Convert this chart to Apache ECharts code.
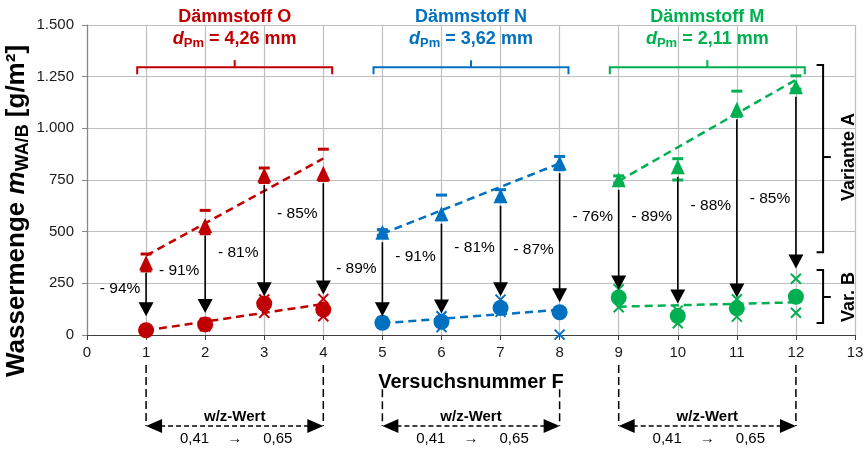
<!DOCTYPE html>
<html><head><meta charset="utf-8">
<script src="https://cdn.jsdelivr.net/npm/echarts@6/dist/echarts.min.js"></script>
<style>html,body{margin:0;padding:0;background:#fff}#c{width:865px;height:449px}</style>
</head><body><div id="c"></div>
<script>
// ---------- data ----------
const groupNames = ['Dämmstoff O', 'Dämmstoff N', 'Dämmstoff M'];
const groupDpm = ['4,26', '3,62', '2,11'];
const groupSpan = [[1, 4], [5, 8], [9, 12]];
const trialNumbers = [1, 2, 3, 4, 5, 6, 7, 8, 9, 10, 11, 12];
const groupOfTrial = [0, 0, 0, 0, 1, 1, 1, 1, 2, 2, 2, 2];
const variantA = [349, 530, 774, 783, 497, 587, 674, 832, 751, 814, 1092, 1201];
const variantALow = [310, 490, 738, 748, 482, 558, 650, 800, 735, 750, 1058, 1190];
const variantAHigh = [392, 603, 808, 899, 510, 677, 703, 864, 770, 853, 1180, 1254];
const variantB = [23, 51, 152, 123, 59, 64, 131, 110, 182, 92, 129, 185];
const singleB = [[2, 42], [2, 60], [3, 107], [3, 172], [4, 175], [4, 91], [5, 66],
  [6, 91], [6, 38], [7, 171], [7, 112], [8, 2], [9, 221], [9, 134], [10, 57], [10, 118],
  [11, 173], [11, 89], [12, 272], [12, 108]];
const trendA = [[[1, 384], [4, 854]], [[5, 490], [8, 830]], [[9, 745], [12, 1235]]];
const trendB = [[[1, 22], [4, 150]], [[5, 57], [8, 122]], [[9, 137], [12, 158]]];
const arrowTip = [91, 107, 187, 196, 91, 104, 187, 158, 220, 152, 182, 322];
const reductions = ['- 94%', '- 91%', '- 81%', '- 85%', '- 89%', '- 91%', '- 81%', '- 87%', '- 76%', '- 89%', '- 88%', '- 85%'];
const yTicks = [0, 250, 500, 750, 1000, 1250, 1500];
const wzFrom = '0,41', wzTo = '0,65';

// ---------- layout (not data) ----------
const labelLevel = [222, 309, 398, 585, 322, 379, 422, 414, 572, 572, 624, 661];
const groupColors = ['#C00000', '#0070C0', '#00B050'];
const FONT = '"Liberation Sans", Arial, sans-serif';

const chart = echarts.init(document.getElementById('c'), null, {renderer: 'canvas'});

function fmtY(v) {
  if (v >= 1000) return Math.floor(v / 1000) + '.' + String(v % 1000).padStart(3, '0');
  return String(v);
}

const series = [];
for (let g = 0; g < 3; g++) {
  [trendA[g], trendB[g]].forEach(tr => series.push({
    type: 'line', data: tr, symbol: 'none', silent: true, z: 3,
    lineStyle: {color: groupColors[g], width: 2.5, type: [8, 5]}
  }));
}
// error bar caps of variant A
series.push({
  type: 'custom', z: 4, silent: true,
  data: trialNumbers.map((x, i) => [x, variantALow[i], variantAHigh[i]]),
  renderItem(params, api) {
    const i = params.dataIndex, x = api.value(0);
    const lo = api.coord([x, api.value(1)]), hi = api.coord([x, api.value(2)]);
    const c = groupColors[groupOfTrial[i]];
    return {type: 'group', children: [
      {type: 'rect', shape: {x: lo[0] - 5.5, y: lo[1] - 1.5, width: 11, height: 3}, style: {fill: c}},
      {type: 'rect', shape: {x: hi[0] - 5.5, y: hi[1] - 1.5, width: 11, height: 3}, style: {fill: c}}
    ]};
  }
});
// single values (crosses)
series.push({
  type: 'custom', z: 4, silent: true, data: singleB,
  renderItem(params, api) {
    const x = api.value(0);
    const p = api.coord([x, api.value(1)]);
    const c = groupColors[groupOfTrial[x - 1]];
    const r = 5;
    return {type: 'group', children: [
      {type: 'line', shape: {x1: p[0] - r, y1: p[1] - r, x2: p[0] + r, y2: p[1] + r}, style: {stroke: c, lineWidth: 2}},
      {type: 'line', shape: {x1: p[0] - r, y1: p[1] + r, x2: p[0] + r, y2: p[1] - r}, style: {stroke: c, lineWidth: 2}}
    ]};
  }
});
for (let g = 0; g < 3; g++) {
  const idx = trialNumbers.map((x, i) => i).filter(i => groupOfTrial[i] === g);
  series.push({type: 'scatter', symbol: 'triangle', symbolSize: [14, 15], z: 5, silent: true,
    itemStyle: {color: groupColors[g], opacity: 1}, data: idx.map(i => [trialNumbers[i], variantA[i]])});
  series.push({type: 'scatter', symbol: 'circle', symbolSize: 16, z: 5, silent: true,
    itemStyle: {color: groupColors[g], opacity: 1}, data: idx.map(i => [trialNumbers[i], variantB[i]])});
}
// arrows
series.push({
  type: 'custom', z: 6, silent: true,
  data: trialNumbers.map((x, i) => [x, variantA[i], arrowTip[i]]),
  renderItem(params, api) {
    const x = api.value(0);
    const s = api.coord([x, api.value(1)]), t = api.coord([x, api.value(2)]);
    const hh = 14, hw = 15;
    return {type: 'group', children: [
      {type: 'line', shape: {x1: s[0], y1: s[1] + 10, x2: s[0], y2: t[1] - hh + 1}, style: {stroke: '#000', lineWidth: 1.6}},
      {type: 'polygon', shape: {points: [[t[0] - hw / 2, t[1] - hh], [t[0] + hw / 2, t[1] - hh], [t[0], t[1]]]}, style: {fill: '#000'}}
    ]};
  }
});
// reduction labels
series.push({
  type: 'custom', z: 7, silent: true,
  data: trialNumbers.map((x, i) => [x, labelLevel[i]]),
  renderItem(params, api) {
    const p = api.coord([api.value(0) - 0.44, api.value(1)]);
    return {type: 'text', style: {x: p[0], y: p[1], text: reductions[params.dataIndex],
      font: '15.5px ' + FONT, fill: '#000', align: 'center', verticalAlign: 'middle'}};
  }
});
// annotations: group brackets, titles, w/z-Wert, variant brackets
series.push({
  type: 'custom', z: 7, silent: true, clip: false, data: [[0, 0]],
  renderItem(params, api) {
    const ch = [];
    const C = (x, y) => api.coord([x, y]);
    for (let g = 0; g < 3; g++) {
      const col = groupColors[g];
      const a = groupSpan[g][0], b = groupSpan[g][1], m = (a + b) / 2;
      const l = C(a - 0.15, 1262), lt = C(a - 0.15, 1296), rt = C(b + 0.15, 1296), r = C(b + 0.15, 1262);
      const mt = C(m, 1296), mu = C(m, 1330);
      ch.push({type: 'polyline', shape: {points: [l, lt, rt, r]}, style: {stroke: col, lineWidth: 2, fill: null}});
      ch.push({type: 'line', shape: {x1: mt[0], y1: mt[1], x2: mu[0], y2: mu[1]}, style: {stroke: col, lineWidth: 2}});
      const t1 = C(m, 1538), t2 = C(m, 1431);
      ch.push({type: 'text', style: {x: t1[0], y: t1[1], text: groupNames[g], font: 'bold 18px ' + FONT,
        fill: col, align: 'center', verticalAlign: 'middle'}});
      ch.push({type: 'text', style: {x: t2[0], y: t2[1], text: '{d|d}{s|Pm}{n| = ' + groupDpm[g] + ' mm}',
        align: 'center', verticalAlign: 'middle', fill: col,
        rich: {
          d: {fontFamily: FONT, fontSize: 18, fontWeight: 'bold', fontStyle: 'italic', fill: col, lineHeight: 22},
          s: {fontFamily: FONT, fontSize: 13, fontWeight: 'bold', fill: col, lineHeight: 12, verticalAlign: 'bottom'},
          n: {fontFamily: FONT, fontSize: 18, fontWeight: 'bold', fill: col, lineHeight: 22}
        }}});
      // w/z-Wert annotation under the axis
      const yStart = g === 1 ? -262 : -145;
      [a, b].forEach(xv => {
        const p0 = C(xv, yStart), p1 = C(xv, -440);
        ch.push({type: 'line', shape: {x1: p0[0], y1: p0[1], x2: p1[0], y2: p1[1]}, style: {stroke: '#000', lineWidth: 1.5, lineDash: [8, 4]}});
      });
      const pa = C(a, -440), pb = C(b, -440);
      ch.push({type: 'line', shape: {x1: pa[0] + 14, y1: pa[1], x2: pb[0] - 14, y2: pb[1]}, style: {stroke: '#000', lineWidth: 1.5, lineDash: [5, 3]}});
      ch.push({type: 'polygon', shape: {points: [[pa[0], pa[1]], [pa[0] + 16, pa[1] - 7], [pa[0] + 16, pa[1] + 7]]}, style: {fill: '#000'}});
      ch.push({type: 'polygon', shape: {points: [[pb[0], pb[1]], [pb[0] - 16, pb[1] - 7], [pb[0] - 16, pb[1] + 7]]}, style: {fill: '#000'}});
      const w = C(m, -395);
      ch.push({type: 'text', style: {x: w[0], y: w[1], text: 'w/z-Wert', font: 'bold 15px ' + FONT, fill: '#000', align: 'center', verticalAlign: 'middle'}});
      const v1 = C(m - 0.68, -503), v2 = C(m, -503), v3 = C(m + 0.73, -503);
      ch.push({type: 'text', style: {x: v1[0], y: v1[1], text: wzFrom, font: '15px ' + FONT, fill: '#000', align: 'center', verticalAlign: 'middle'}});
      ch.push({type: 'text', style: {x: v2[0], y: v2[1], text: '→', font: '15px ' + FONT, fill: '#000', align: 'center', verticalAlign: 'middle'}});
      ch.push({type: 'text', style: {x: v3[0], y: v3[1], text: wzTo, font: '15px ' + FONT, fill: '#000', align: 'center', verticalAlign: 'middle'}});
    }
    // variant brackets on the right
    const brace = (top, mid, bot, label) => {
      const t = C(12.46, top), b = C(12.46, bot), tl = C(12.35, top), bl = C(12.35, bot);
      const mm = C(12.46, mid), mr = C(12.59, mid);
      ch.push({type: 'polyline', shape: {points: [tl, t, b, bl]}, style: {stroke: '#000', lineWidth: 2, fill: null}});
      ch.push({type: 'line', shape: {x1: mm[0], y1: mm[1], x2: mr[0], y2: mr[1]}, style: {stroke: '#000', lineWidth: 2}});
      const tp = C(12.9, mid);
      ch.push({type: 'text', x: tp[0], y: tp[1], rotation: Math.PI / 2,
        style: {x: 0, y: 0, text: label, font: 'bold 18px ' + FONT, fill: '#000', align: 'center', verticalAlign: 'middle'}});
    };
    brace(1306, 861, 401, 'Variante A');
    brace(314, 184, 58, 'Var. B');
    return {type: 'group', children: ch};
  }
});

const option = {
  animation: false,
  backgroundColor: '#fff',
  grid: {left: 87, right: 10, top: 25, bottom: 114, containLabel: false, outerBoundsMode: 'none'},
  xAxis: {
    type: 'value', min: 0, max: 13, interval: 1,
    name: 'Versuchsnummer F', nameLocation: 'middle', nameGap: 37,
    nameTextStyle: {fontFamily: FONT, fontSize: 20, fontWeight: 'bold', color: '#000'},
    axisLine: {show: true, onZero: false, lineStyle: {color: '#404040', width: 1.2}},
    axisTick: {show: true, length: 5, lineStyle: {color: '#404040'}},
    axisLabel: {fontFamily: FONT, fontSize: 15, color: '#1a1a1a', margin: 10},
    splitLine: {show: true, lineStyle: {color: '#BFBFBF', width: 1.2}}
  },
  yAxis: {
    type: 'value', min: 0, max: 1500, interval: 250,
    axisLine: {show: true, lineStyle: {color: '#868686', width: 1.2}},
    axisTick: {show: true, length: 5, lineStyle: {color: '#868686'}},
    axisLabel: {fontFamily: FONT, fontSize: 15, color: '#1a1a1a', margin: 13,
      formatter: v => yTicks.includes(v) ? fmtY(v) : ''},
    splitLine: {show: true, lineStyle: {color: '#BFBFBF', width: 1.2}}
  },
  graphic: [{
    type: 'text', x: 17, y: 211, rotation: Math.PI / 2, silent: true,
    style: {
      text: '{a|Wassermenge }{i|m}{s|WA/B}{a| [g/m²]}', align: 'center', verticalAlign: 'middle', fill: '#000',
      rich: {
        a: {fontFamily: FONT, fontSize: 26, fontWeight: 'bold', fill: '#000', lineHeight: 30},
        i: {fontFamily: FONT, fontSize: 26, fontWeight: 'bold', fontStyle: 'italic', fill: '#000', lineHeight: 30},
        s: {fontFamily: FONT, fontSize: 18, fontWeight: 'bold', fill: '#000', lineHeight: 18, verticalAlign: 'bottom'}
      }
    }
  }],
  series
};
chart.setOption(option);
</script>
</body></html>
